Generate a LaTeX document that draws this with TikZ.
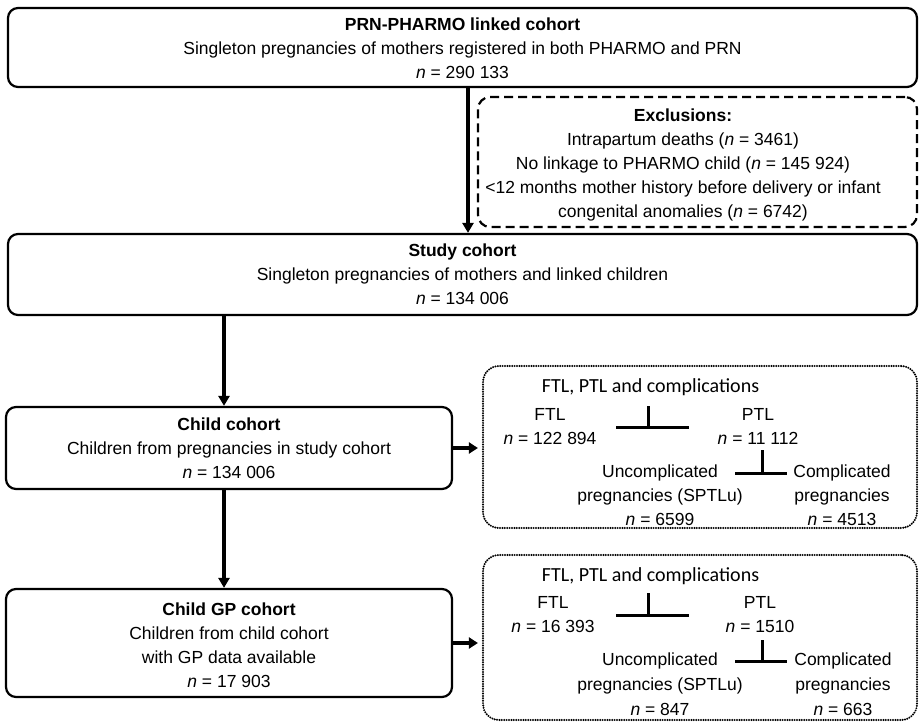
\documentclass[tikz,border=0pt]{standalone}
\usepackage{fontspec}
\setmainfont{Liberation Sans}
\newfontfamily\calfont{Carlito}
\usetikzlibrary{arrows.meta,calc}
\begin{document}
\begin{tikzpicture}[x=1pt,y=-1pt,
  font=\fontsize{17.5}{24}\selectfont,
  box/.style={draw, line width=2.2pt, rounded corners=10pt, align=center, inner sep=0pt},
  exclbox/.style={draw, line width=2.2pt, dash pattern=on 9pt off 5pt, rounded corners=12pt, inner sep=0pt},
  dotbox/.style={draw, line width=2.2pt, dash pattern=on 0pt off 2.4pt, line cap=round, rounded corners=16pt, inner sep=0pt},
  txt/.style={align=center, inner sep=0pt},
  arr/.style={line width=3.2pt, -{Triangle[length=10pt,width=11pt]}},
  sidearr/.style={line width=4.5pt, -{Triangle[length=9pt,width=11pt]}, shorten >=4pt},
  tline/.style={line width=3pt}]
\useasboundingbox (0,0) rectangle (920,722);

% main boxes
\node[box, minimum width=909pt, minimum height=79pt] (linked) at (462.5,47.5)
  {\rule{0pt}{14pt}\textbf{PRN-PHARMO linked cohort}\\
   Singleton pregnancies of mothers registered in both PHARMO and PRN\\
   \textit{n} = 290 133};
\node[box, minimum width=909pt, minimum height=81pt] (study) at (462.5,274.5)
  {\textbf{Study cohort}\\
   Singleton pregnancies of mothers and linked children\\
   \textit{n} = 134 006};
\node[box, minimum width=446pt, minimum height=82pt] (child) at (229,448)
  {\textbf{Child cohort}\\
   Children from pregnancies in study cohort\\
   \textit{n} = 134 006};
\node[box, minimum width=446pt, minimum height=108pt] (gp) at (229,643)
  {\rule{0pt}{18pt}\textbf{Child GP cohort}\\
   Children from child cohort\\
   with GP data available\\
   \textit{n} = 17 903};

% exclusions
\node[exclbox, minimum width=439pt, minimum height=130pt] (excl) at (697.5,162) {};
\node[txt] (exclt) at (683,163)
  {\rule{0pt}{16pt}\textbf{Exclusions:}\\
   Intrapartum deaths (\textit{n} = 3461)\\
   No linkage to PHARMO child (\textit{n} = 145 924)\\
   {<}12 months mother history before delivery or infant\\
   congenital anomalies (\textit{n} = 6742)};

% dotted boxes
\node[dotbox, minimum width=434pt, minimum height=162pt] (dot1) at (700,447) {};
\node[dotbox, minimum width=434pt, minimum height=165pt] (dot2) at (700,637.5) {};

% contents of dotted box 1
\node[txt, font=\calfont\fontsize{20}{24}\selectfont] (h1) at (650.5,387) {FTL, PTL and complications};
\node[txt] (ftl1) at (550,426.5) {FTL\\\textit{n} = 122 894};
\node[txt] (ptl1) at (758,426.5) {PTL\\\textit{n} = 11 112};
\node[txt] (unc1) at (660,495) {Uncomplicated\\pregnancies (SPTLu)\\\textit{n} = 6599};
\node[txt] (comp1) at (842,495) {Complicated\\pregnancies\\\textit{n} = 4513};
\coordinate (ta1) at (648,427);
\coordinate (tb1) at (762,473);
\draw[tline] ($(ta1)+(-32,0)$) -- ($(ta1)+(41,0)$);
\draw[tline] (ta1) -- ++(0,-21);
\draw[tline] ($(tb1)+(-27,0)$) -- ($(tb1)+(25,0)$);
\draw[tline] (tb1) -- ++(0,-23);

% contents of dotted box 2
\node[txt, font=\calfont\fontsize{20}{24}\selectfont] (h2) at (650.5,576) {FTL, PTL and complications};
\node[txt] (ftl2) at (553,614.5) {FTL\\\textit{n} = 16 393};
\node[txt] (ptl2) at (760,614.5) {PTL\\\textit{n} = 1510};
\node[txt, font=\fontsize{17.5}{25}\selectfont] (unc2) at (660,684) {Uncomplicated\\pregnancies (SPTLu)\\\textit{n} = 847};
\node[txt, font=\fontsize{17.5}{25}\selectfont] (comp2) at (843,684) {Complicated\\pregnancies\\\textit{n} = 663};
\coordinate (ta2) at (648,615);
\coordinate (tb2) at (762,661);
\draw[tline] ($(ta2)+(-32,0)$) -- ($(ta2)+(41,0)$);
\draw[tline] (ta2) -- ++(0,-22);
\draw[tline] ($(tb2)+(-27,0)$) -- ($(tb2)+(25,0)$);
\draw[tline] (tb2) -- ++(0,-21);

% arrows
\coordinate (ax) at (468,0);
\coordinate (cx) at (224,0);
\draw[arr] (linked.south -| ax) -- (study.north -| ax);
\draw[arr] (study.south -| cx) -- (child.north -| cx);
\draw[arr] (child.south -| cx) -- (gp.north -| cx);
\draw[sidearr] (child.east) -- (child.east -| dot1.west);
\draw[sidearr] (gp.east) -- (gp.east -| dot2.west);
\end{tikzpicture}
\end{document}
